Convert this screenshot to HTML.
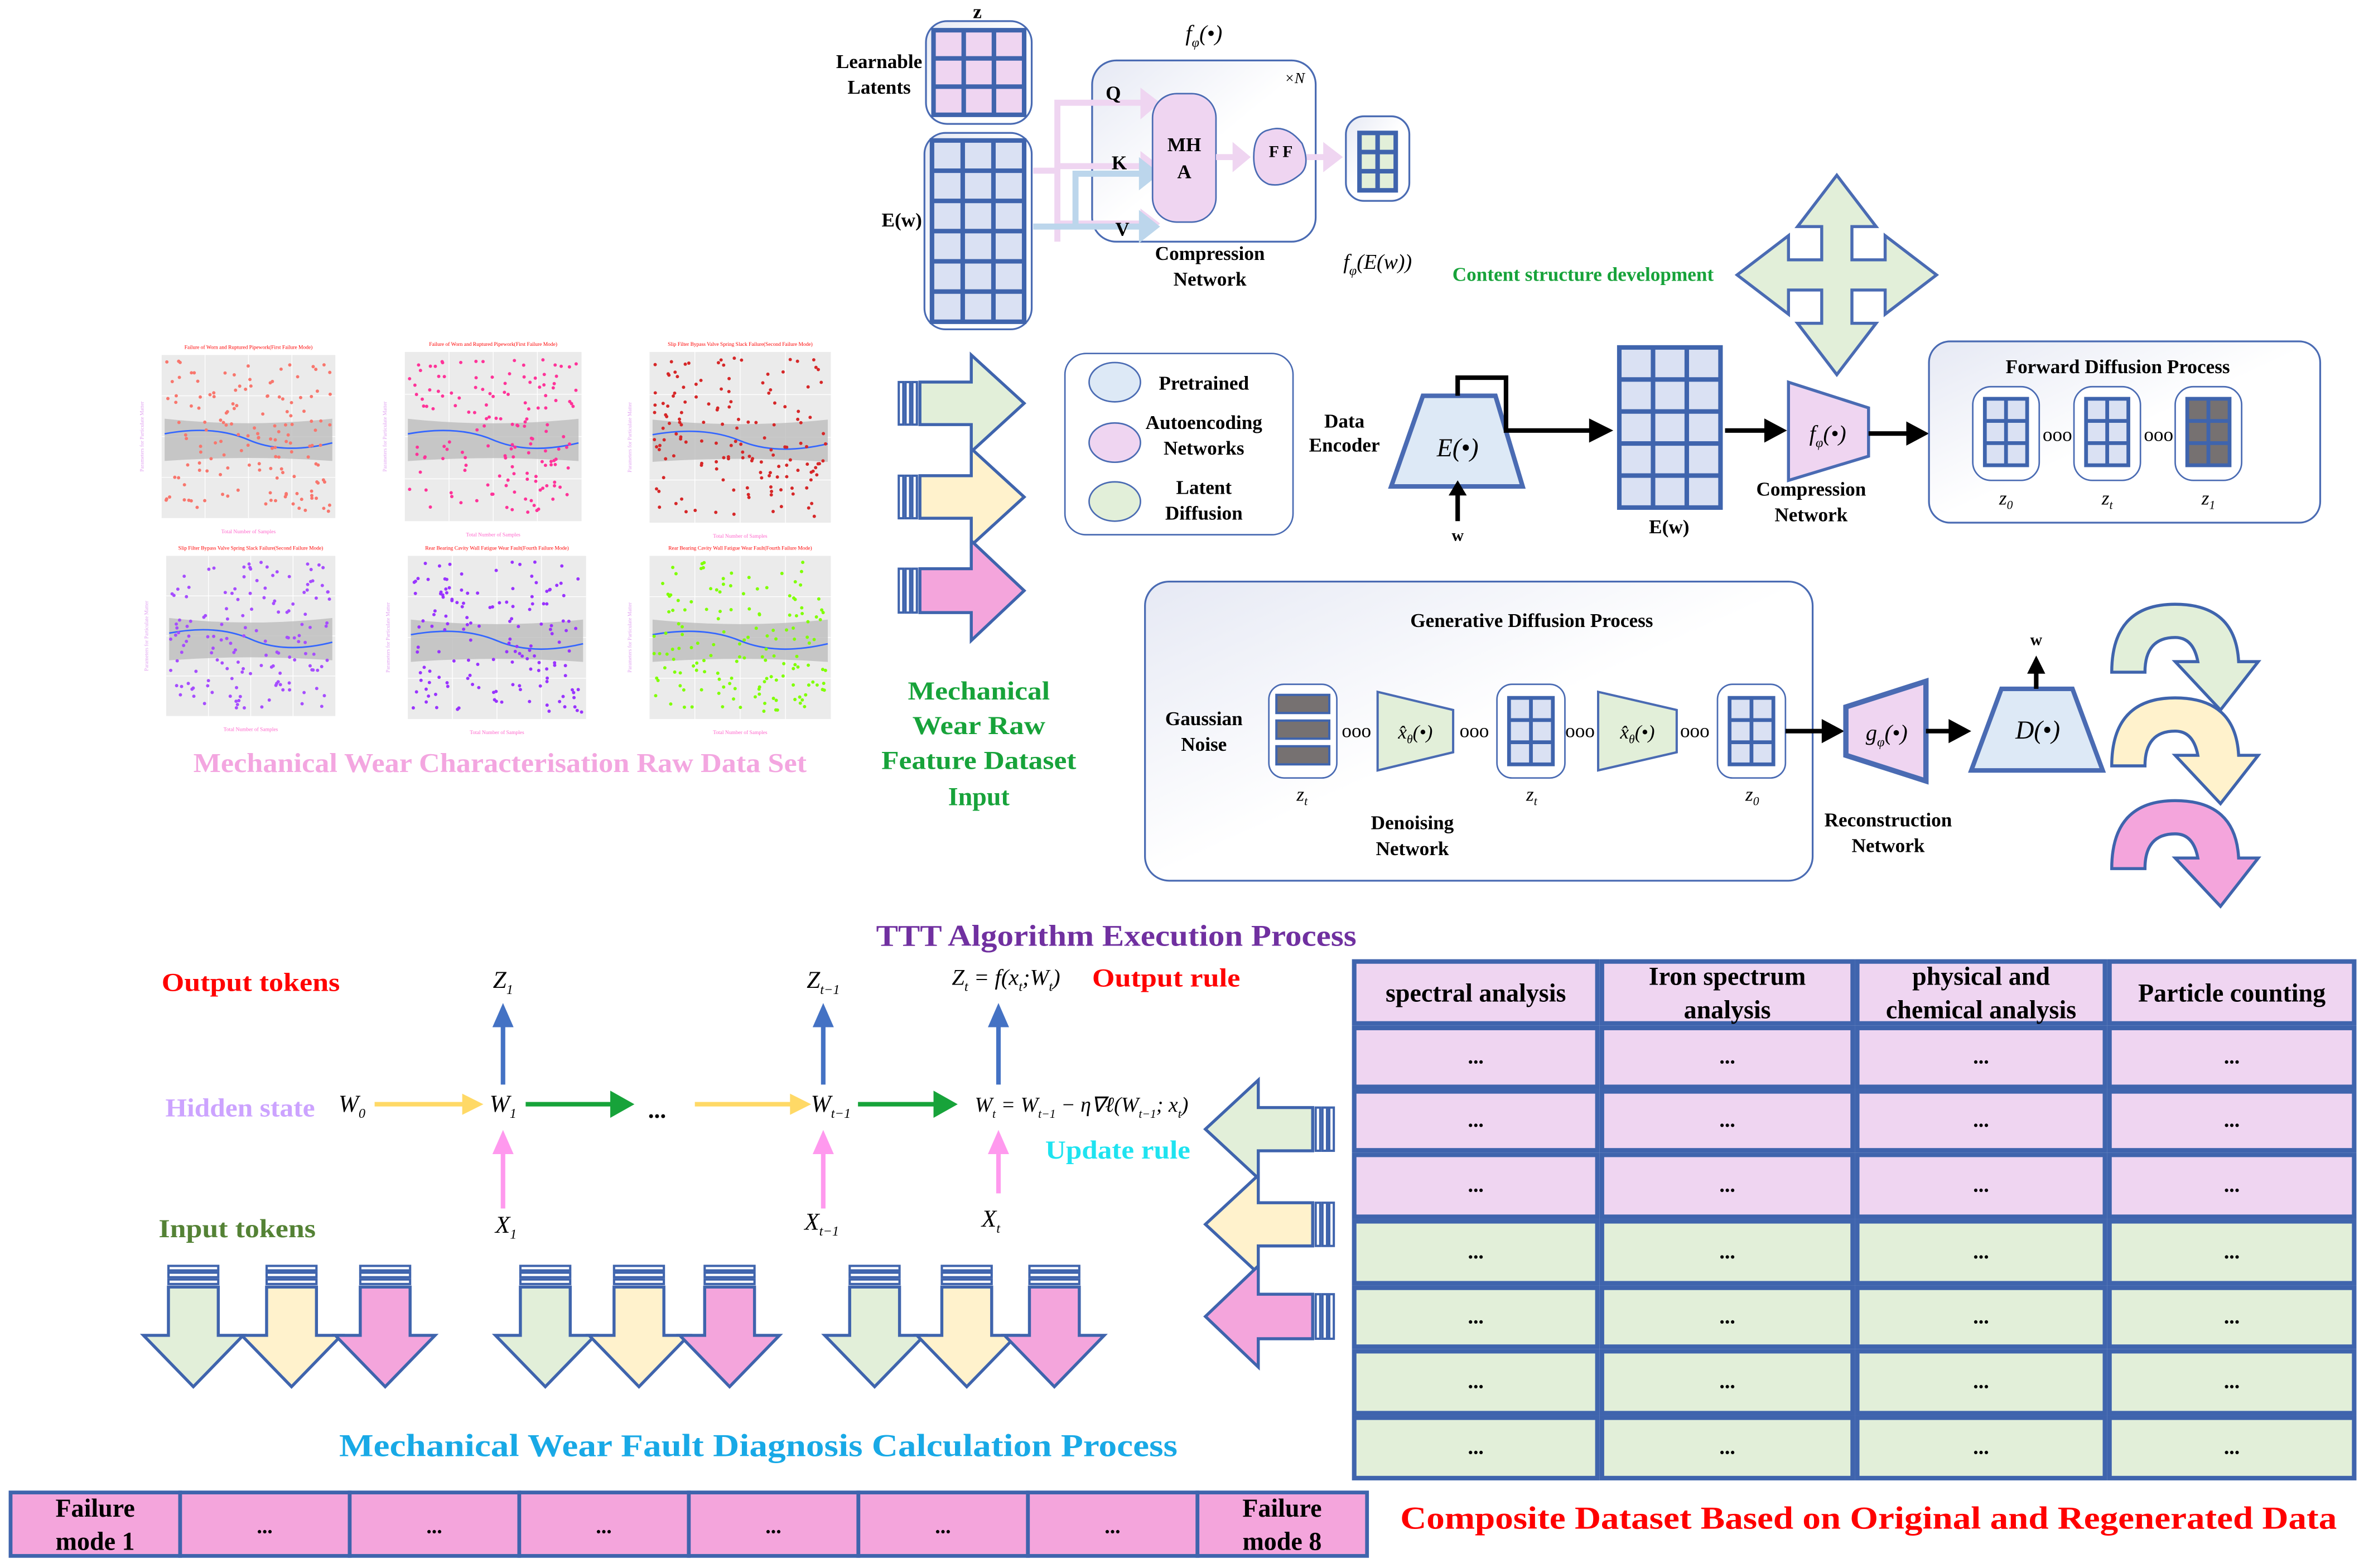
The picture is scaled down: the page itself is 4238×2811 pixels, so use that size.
<!DOCTYPE html>
<html><head><meta charset="utf-8"><style>
html,body{margin:0;padding:0;background:#fff}
svg{display:block}
text{font-family:"Liberation Serif",serif}
</style></head><body>
<svg id="s" xmlns="http://www.w3.org/2000/svg" width="4238" height="2811" viewBox="0 0 1565 1038" preserveAspectRatio="none">
<defs>
<linearGradient id="bg" x1="0" y1="0" x2="1" y2="1"><stop offset="0" stop-color="#e6e9f4"/><stop offset="0.5" stop-color="#ffffff"/></linearGradient>
</defs>
<g id="plots"></g>
<g id="main" font-weight="bold" font-size="13">
<text x="647" y="12" text-anchor="middle">z</text>
<text x="582" y="45" text-anchor="middle">Learnable</text>
<text x="582" y="62" text-anchor="middle">Latents</text>
<rect x="613" y="14" width="70" height="68" rx="14" fill="url(#bg)" stroke="#4a6bb3" stroke-width="1.2"/>
<rect x="612" y="88" width="71" height="130" rx="14" fill="url(#bg)" stroke="#4a6bb3" stroke-width="1.2"/>
<text x="597" y="150" text-anchor="middle">E(w)</text>
<text x="797" y="27" text-anchor="middle" font-style="italic" font-weight="normal" font-size="15">f<tspan font-size="9" dy="4">φ</tspan><tspan dy="-4">(•)</tspan></text>
<rect x="723" y="40" width="148" height="120" rx="16" fill="url(#bg)" stroke="#4a6bb3" stroke-width="1.2"/>
<text x="857" y="55" text-anchor="middle" font-style="italic" font-weight="normal" font-size="10">×N</text>
<g fill="none" stroke="#efd5f1" stroke-width="4">
<path d="M684,113 H700 V160 M700,113 V68 H760 M700,113 V110 H760 M700,160 V148 H760"/>
</g>
<g fill="#efd5f1"><path d="M755,58 L768,68 L755,79z"/><path d="M755,100 L768,110 L755,120z"/><path d="M755,138 L768,148 L755,158z"/></g>
<g fill="none" stroke="#bcd6ec" stroke-width="4"><path d="M684,150 H758 M712,150 V115 H758"/></g>
<g fill="#bcd6ec"><path d="M754,104 L768,115 L754,126z"/><path d="M754,139 L768,150 L754,161z"/></g>
<text x="737" y="66" text-anchor="middle">Q</text>
<text x="741" y="112" text-anchor="middle">K</text>
<text x="743" y="156" text-anchor="middle">V</text>
<rect x="763" y="62" width="42" height="85" rx="16" fill="#efd5f1" stroke="#4a6bb3" stroke-width="1"/>
<text x="784" y="100" text-anchor="middle">MH</text><text x="784" y="118" text-anchor="middle">A</text>
<path d="M805,104 H818" stroke="#efd5f1" stroke-width="4"/><path d="M816,94 L828,104 L816,114z" fill="#efd5f1"/>
<path d="M840,86 Q852,82 862,95 Q868,110 860,116 Q850,124 840,122 Q830,118 830,104 Q830,88 840,86z" fill="#efd5f1" stroke="#4a6bb3" stroke-width="1"/>
<text x="840" y="104" font-size="11">F F</text>
<path d="M865,104 H878" stroke="#efd5f1" stroke-width="4"/><path d="M876,94 L889,104 L876,114z" fill="#efd5f1"/>
<rect x="891" y="77" width="42" height="56" rx="12" fill="url(#bg)" stroke="#4a6bb3" stroke-width="1.2"/>
<text x="801" y="172" text-anchor="middle">Compression</text>
<text x="801" y="189" text-anchor="middle">Network</text>
<text x="912" y="178" text-anchor="middle" font-style="italic" font-weight="normal" font-size="14">f<tspan font-size="9" dy="4">φ</tspan><tspan dy="-4">(E(w))</tspan></text>
<text x="1048" y="186" text-anchor="middle" fill="#17a33a">Content structure development</text>
<path d="M1216,116 L1242,150 L1226,150 L1226,172 L1248,172 L1248,156 L1282,182 L1248,208 L1248,192 L1226,192 L1226,214 L1242,214 L1216,248 L1190,214 L1206,214 L1206,192 L1184,192 L1184,208 L1150,182 L1184,156 L1184,172 L1206,172 L1206,150 L1190,150 Z" fill="#e2efd9" stroke="#4a6bb3" stroke-width="2"/>
<rect x="705" y="234" width="151" height="120" rx="14" fill="#fff" stroke="#4a6bb3" stroke-width="1"/>
<ellipse cx="738" cy="253" rx="17" ry="13" fill="#dde9f6" stroke="#4a6bb3"/>
<ellipse cx="738" cy="293" rx="17" ry="13" fill="#efd5f1" stroke="#4a6bb3"/>
<ellipse cx="738" cy="332" rx="17" ry="13" fill="#e2efd9" stroke="#4a6bb3"/>
<text x="797" y="258" text-anchor="middle">Pretrained</text>
<text x="797" y="284" text-anchor="middle">Autoencoding</text>
<text x="797" y="301" text-anchor="middle">Networks</text>
<text x="797" y="327" text-anchor="middle">Latent</text>
<text x="797" y="344" text-anchor="middle">Diffusion</text>
<text x="890" y="283" text-anchor="middle">Data</text>
<text x="890" y="299" text-anchor="middle">Encoder</text>
<path d="M942,262 H990 L1008,322 H921 Z" fill="#dde9f6" stroke="#4a6bb3" stroke-width="3"/>
<text x="965" y="302" text-anchor="middle" font-style="italic" font-weight="normal" font-size="17">E(•)</text>
<path d="M965,345 V324" stroke="#000" stroke-width="3"/><path d="M959,328 L965,318 L971,328z"/>
<text x="965" y="358" text-anchor="middle" font-size="11">w</text>
<path d="M965,262 V250 H997 V285 H1055" fill="none" stroke="#000" stroke-width="3"/><path d="M1052,277 L1068,285 L1052,293z"/>
<text x="1105" y="353" text-anchor="middle">E(w)</text>
<path d="M1142,285 H1170" stroke="#000" stroke-width="3"/><path d="M1168,277 L1183,285 L1168,293z"/>
<path d="M1184,253 L1237,270 V302 L1184,318 Z" fill="#efd5f1" stroke="#4a6bb3" stroke-width="2"/>
<text x="1210" y="292" text-anchor="middle" font-style="italic" font-weight="normal" font-size="15">f<tspan font-size="9" dy="4">φ</tspan><tspan dy="-4">(•)</tspan></text>
<text x="1199" y="328" text-anchor="middle">Compression</text>
<text x="1199" y="345" text-anchor="middle">Network</text>
<path d="M1237,287 H1264" stroke="#000" stroke-width="3"/><path d="M1262,279 L1277,287 L1262,295z"/>
<rect x="1277" y="226" width="259" height="120" rx="14" fill="url(#bg)" stroke="#4a6bb3" stroke-width="1.2"/>
<text x="1402" y="247" text-anchor="middle">Forward Diffusion Process</text>
<rect x="1306" y="256" width="44" height="62" rx="12" fill="#fff" stroke="#4a6bb3"/>
<rect x="1373" y="256" width="44" height="62" rx="12" fill="#fff" stroke="#4a6bb3"/>
<rect x="1440" y="256" width="44" height="62" rx="12" fill="#fff" stroke="#4a6bb3"/>
<text x="1362" y="292" text-anchor="middle" font-weight="normal">ooo</text>
<text x="1429" y="292" text-anchor="middle" font-weight="normal">ooo</text>
<g font-style="italic" font-weight="normal" font-size="13" text-anchor="middle">
<text x="1328" y="334">z<tspan font-size="8" dy="3">0</tspan></text>
<text x="1395" y="334">z<tspan font-size="8" dy="3">t</tspan></text>
<text x="1462" y="334">z<tspan font-size="8" dy="3">1</tspan></text>
</g>
<rect x="758" y="385" width="442" height="198" rx="16" fill="url(#bg)" stroke="#4a6bb3" stroke-width="1.2"/>
<text x="1014" y="415" text-anchor="middle">Generative Diffusion Process</text>
<text x="797" y="480" text-anchor="middle">Gaussian</text>
<text x="797" y="497" text-anchor="middle">Noise</text>
<rect x="840" y="453" width="45" height="62" rx="10" fill="#fff" stroke="#4a6bb3"/>
<g fill="#767171" stroke="#3f64ad" stroke-width="1.5"><rect x="845" y="460" width="35" height="12"/><rect x="845" y="477" width="35" height="12"/><rect x="845" y="494" width="35" height="12"/></g>
<rect x="991" y="453" width="45" height="62" rx="10" fill="#fff" stroke="#4a6bb3"/>
<rect x="1137" y="453" width="45" height="62" rx="10" fill="#fff" stroke="#4a6bb3"/>
<g font-weight="normal" text-anchor="middle"><text x="898" y="488">ooo</text><text x="976" y="488">ooo</text><text x="1046" y="488">ooo</text><text x="1122" y="488">ooo</text></g>
<path d="M912,458 L962,470 V498 L912,510 Z" fill="#e2efd9" stroke="#4a6bb3" stroke-width="1.5"/>
<path d="M1058,458 L1110,470 V498 L1058,510 Z" fill="#e2efd9" stroke="#4a6bb3" stroke-width="1.5"/>
<g font-style="italic" font-weight="normal" font-size="13" text-anchor="middle">
<text x="937" y="489">x̂<tspan font-size="8" dy="3">θ</tspan><tspan dy="-3">(•)</tspan></text>
<text x="1084" y="489">x̂<tspan font-size="8" dy="3">θ</tspan><tspan dy="-3">(•)</tspan></text>
<text x="862" y="530">z<tspan font-size="8" dy="3">t</tspan></text>
<text x="1014" y="530">z<tspan font-size="8" dy="3">t</tspan></text>
<text x="1160" y="530">z<tspan font-size="8" dy="3">0</tspan></text>
</g>
<text x="935" y="549" text-anchor="middle">Denoising</text>
<text x="935" y="566" text-anchor="middle">Network</text>
<path d="M1182,484 H1208" stroke="#000" stroke-width="3"/><path d="M1206,476 L1221,484 L1206,492z"/>
<path d="M1222,468 L1275,451 V517 L1222,500 Z" fill="#efd5f1" stroke="#4a6bb3" stroke-width="3.5"/>
<text x="1249" y="490" text-anchor="middle" font-style="italic" font-weight="normal" font-size="15">g<tspan font-size="9" dy="4">φ</tspan><tspan dy="-4">(•)</tspan></text>
<path d="M1275,484 H1292" stroke="#000" stroke-width="3"/><path d="M1290,476 L1305,484 L1290,492z"/>
<path d="M1325,456 H1372 L1392,510 H1305 Z" fill="#dde9f6" stroke="#4a6bb3" stroke-width="3"/>
<text x="1349" y="489" text-anchor="middle" font-style="italic" font-weight="normal" font-size="17">D(•)</text>
<path d="M1348,456 V444" stroke="#000" stroke-width="3"/><path d="M1342,446 L1348,434 L1354,446z"/>
<text x="1348" y="427" text-anchor="middle" font-size="11">w</text>
<text x="1250" y="547" text-anchor="middle">Reconstruction</text>
<text x="1250" y="564" text-anchor="middle">Network</text>
<g font-size="17" text-anchor="middle" fill="#17a33a" lengthAdjust="spacingAndGlyphs">
<text x="648" y="463" textLength="94" lengthAdjust="spacingAndGlyphs">Mechanical</text><text x="648" y="486" textLength="88" lengthAdjust="spacingAndGlyphs">Wear Raw</text><text x="648" y="509" textLength="129" lengthAdjust="spacingAndGlyphs">Feature Dataset</text><text x="648" y="533">Input</text></g>
<text x="331" y="511" text-anchor="middle" font-size="18" fill="#f3a6e0" textLength="406" lengthAdjust="spacingAndGlyphs">Mechanical Wear Characterisation Raw Data Set</text>
<text x="739" y="626" text-anchor="middle" font-size="20" fill="#7030a0" textLength="318" lengthAdjust="spacingAndGlyphs">TTT Algorithm Execution Process</text>
<text x="166" y="656" text-anchor="middle" font-size="17" fill="#ff0000" textLength="118" lengthAdjust="spacingAndGlyphs">Output tokens</text>
<text x="159" y="739" text-anchor="middle" font-size="17" fill="#cca3ff" textLength="99" lengthAdjust="spacingAndGlyphs">Hidden state</text>
<text x="157" y="819" text-anchor="middle" font-size="17" fill="#548235" textLength="104" lengthAdjust="spacingAndGlyphs">Input tokens</text>
<text x="772" y="653" text-anchor="middle" font-size="17" fill="#ff0000" textLength="98" lengthAdjust="spacingAndGlyphs">Output rule</text>
<text x="740" y="767" text-anchor="middle" font-size="17" fill="#1ee3f0" textLength="96" lengthAdjust="spacingAndGlyphs">Update rule</text>
<text x="502" y="964" text-anchor="middle" font-size="21" fill="#18a9e6" textLength="555" lengthAdjust="spacingAndGlyphs">Mechanical Wear Fault Diagnosis Calculation Process</text>
<text x="1237" y="1012" text-anchor="middle" font-size="21" fill="#ff0000" textLength="620" lengthAdjust="spacingAndGlyphs">Composite Dataset Based on Original and Regenerated Data</text>
<g font-style="italic" font-weight="normal" font-size="16" text-anchor="middle">
<text x="233" y="736">W<tspan font-size="9" dy="4">0</tspan></text>
<text x="333" y="736">W<tspan font-size="9" dy="4">1</tspan></text>
<text x="550" y="736">W<tspan font-size="9" dy="4">t−1</tspan></text>
<text x="333" y="654">Z<tspan font-size="9" dy="4">1</tspan></text>
<text x="545" y="654">Z<tspan font-size="9" dy="4">t−1</tspan></text>
<text x="335" y="816">X<tspan font-size="9" dy="4">1</tspan></text>
<text x="544" y="814">X<tspan font-size="9" dy="4">t−1</tspan></text>
<text x="656" y="812">X<tspan font-size="9" dy="4">t</tspan></text>
<text x="666" y="652" font-size="15">Z<tspan font-size="9" dy="4">t</tspan><tspan dy="-4"> = f(x</tspan><tspan font-size="9" dy="4">t</tspan><tspan dy="-4">;W</tspan><tspan font-size="9" dy="4">t</tspan><tspan dy="-4">)</tspan></text>
<text x="716" y="736" font-size="14">W<tspan font-size="8" dy="4">t</tspan><tspan dy="-4"> = W</tspan><tspan font-size="8" dy="4">t−1</tspan><tspan dy="-4"> − η∇ℓ(W</tspan><tspan font-size="8" dy="4">t−1</tspan><tspan dy="-4">; x</tspan><tspan font-size="8" dy="4">t</tspan><tspan dy="-4">)</tspan></text>
</g>
<text x="435" y="740" text-anchor="middle" font-size="16">...</text>
<g stroke-width="3" fill="none">
<path d="M248,731 H308" stroke="#ffd966"/><path d="M460,731 H525" stroke="#ffd966"/>
<path d="M348,731 H408" stroke="#17a33a"/><path d="M568,731 H622" stroke="#17a33a"/>
<path d="M333,718 V675" stroke="#4472c4"/><path d="M545,718 V675" stroke="#4472c4"/><path d="M661,718 V675" stroke="#4472c4"/>
<path d="M333,800 V760" stroke="#ff99ee"/><path d="M545,800 V760" stroke="#ff99ee"/><path d="M661,790 V760" stroke="#ff99ee"/>
</g>
<path d="M306,724 L320,731 L306,738z" fill="#ffd966"/><path d="M523,724 L537,731 L523,738z" fill="#ffd966"/>
<path d="M404,722 L420,731 L404,740z" fill="#17a33a"/><path d="M618,722 L634,731 L618,740z" fill="#17a33a"/>
<path d="M326,680 L333,664 L340,680z" fill="#4472c4"/><path d="M538,680 L545,664 L552,680z" fill="#4472c4"/><path d="M654,680 L661,664 L668,680z" fill="#4472c4"/>
<path d="M326,764 L333,748 L340,764z" fill="#ff99ee"/><path d="M538,764 L545,748 L552,764z" fill="#ff99ee"/><path d="M654,764 L661,748 L668,764z" fill="#ff99ee"/>
</g>
<g id="gen"></g>
</svg>
<script>
var NS="http://www.w3.org/2000/svg";
var gen=document.getElementById("gen"), plots=document.getElementById("plots");
function el(p,t,a,txt){var e=document.createElementNS(NS,t);for(var k in a)e.setAttribute(k,a[k]);if(txt!==undefined)e.textContent=txt;p.appendChild(e);return e;}
var B="#3f64ad";
function grid(x,y,w,h,c,r,fill,sw){el(gen,"rect",{x:x,y:y,width:w,height:h,fill:fill,stroke:B,"stroke-width":sw||3});
for(var i=1;i<c;i++)el(gen,"line",{x1:x+w*i/c,y1:y,x2:x+w*i/c,y2:y+h,stroke:B,"stroke-width":sw||3});
for(var j=1;j<r;j++)el(gen,"line",{x1:x,y1:y+h*j/r,x2:x+w,y2:y+h*j/r,stroke:B,"stroke-width":sw||3});}
grid(618,20,60,56,3,3,"#efd5f1");
grid(617,93,61,120,3,6,"#dae1f3");
grid(900,88,24,38,2,3,"#e2efd9");
grid(1072,230,67,106,3,5,"#dae1f3");
[1306,1373,1440].forEach(function(x,i){grid(x+8,264,28,44,2,3,i==2?"#767171":"#dae1f3",2.5);});
grid(999,462,29,44,2,3,"#dae1f3",2.5);grid(1145,462,29,44,2,3,"#dae1f3",2.5);
var cols=["#e2efd9","#fff2cc","#f4a5dc"];
function rarrow(x,y,h,f){var m=y+h/2;
el(gen,"path",{d:"M"+(x+14)+","+(m-h*0.22)+" H"+(x+48)+" V"+y+" L"+(x+83)+","+m+" L"+(x+48)+","+(y+h)+" V"+(m+h*0.22)+" H"+(x+14)+" Z",fill:f,stroke:B,"stroke-width":2});
for(var i=0;i<3;i++)el(gen,"rect",{x:x+i*4.5,y:m-h*0.22,width:3,height:h*0.44,fill:"#fff",stroke:B,"stroke-width":1.5});}
rarrow(595,235,64,cols[0]);rarrow(595,297,64,cols[1]);rarrow(595,358,66,cols[2]);
function larrow(x,y,h,f){var m=y+h/2,r=x+85;
el(gen,"path",{d:"M"+(r-14)+","+(m-h*0.22)+" H"+(x+35)+" V"+y+" L"+x+","+m+" L"+(x+35)+","+(y+h)+" V"+(m+h*0.22)+" H"+(r-14)+" Z",fill:f,stroke:B,"stroke-width":2});
for(var i=0;i<3;i++)el(gen,"rect",{x:r-12+i*4.5,y:m-h*0.22,width:3,height:h*0.44,fill:"#fff",stroke:B,"stroke-width":1.5});}
larrow(798,715,65,cols[0]);larrow(798,778,65,cols[1]);larrow(798,838,67,cols[2]);
function darrow(x,w,f){var y=838,c=x+w/2;
el(gen,"path",{d:"M"+(c-w*0.25)+",852 V884 H"+x+" L"+c+",918 L"+(x+w)+",884 H"+(c+w*0.25)+" V852 Z",fill:f,stroke:B,"stroke-width":2});
for(var i=0;i<3;i++)el(gen,"rect",{x:c-w*0.25,y:y+i*4.5,width:w*0.5,height:3,fill:"#fff",stroke:B,"stroke-width":1.5});}
[[95,160,222],[328,390,450],[546,607,665]].forEach(function(g){g.forEach(function(x,i){darrow(x,66,cols[i]);});});
function curve(y,f){el(gen,"path",{d:"M1398,"+(y+45)+" Q1398,"+y+" 1440,"+y+" Q1480,"+y+" 1482,"+(y+38)+" L1495,"+(y+38)+" L1470,"+(y+70)+" L1440,"+(y+38)+" L1455,"+(y+38)+" Q1452,"+(y+22)+" 1440,"+(y+22)+" Q1420,"+(y+22)+" 1420,"+(y+45)+" Z",fill:f,stroke:B,"stroke-width":2});}
curve(400,cols[0]);curve(462,cols[1]);curve(530,cols[2]);
var cx=[895,1059,1228,1395,1560];
var rows=[[635,679,"#efd5f1"],[679,721,"#efd5f1"],[721,763,"#efd5f1"],[763,807,"#efd5f1"],[807,851,"#e2efd9"],[851,893,"#e2efd9"],[893,937,"#e2efd9"],[937,980,"#e2efd9"]];
var hd=[["spectral analysis"],["Iron spectrum","analysis"],["physical and","chemical analysis"],["Particle counting"]];
rows.forEach(function(r,ri){for(var i=0;i<4;i++){el(gen,"rect",{x:cx[i]+1.5,y:r[0]+1.5,width:cx[i+1]-cx[i]-3,height:r[1]-r[0]-3,fill:r[2],stroke:B,"stroke-width":3});
var mx=(cx[i]+cx[i+1])/2;
if(ri==0){var h=hd[i];if(h.length==1)el(gen,"text",{x:mx,y:663,"text-anchor":"middle","font-size":17,"font-weight":"bold"},h[0]);else{el(gen,"text",{x:mx,y:652,"text-anchor":"middle","font-size":17,"font-weight":"bold"},h[0]);el(gen,"text",{x:mx,y:674,"text-anchor":"middle","font-size":17,"font-weight":"bold"},h[1]);}}
else el(gen,"text",{x:mx,y:(r[0]+r[1])/2+4,"text-anchor":"middle","font-size":14,"font-weight":"bold"},"...");}});
for(var i=0;i<8;i++){var x=7+i*112.25;el(gen,"rect",{x:x,y:988,width:112.25,height:42,fill:"#f4a5dc",stroke:B,"stroke-width":2.5});
if(i==0||i==7){el(gen,"text",{x:x+56,y:1004,"text-anchor":"middle","font-size":17,"font-weight":"bold"},"Failure");el(gen,"text",{x:x+56,y:1026,"text-anchor":"middle","font-size":17,"font-weight":"bold"},i==0?"mode 1":"mode 8");}
else el(gen,"text",{x:x+56,y:1015,"text-anchor":"middle","font-size":14,"font-weight":"bold"},"...");}
var seed=7;function rnd(){seed=(seed*16807)%2147483647;return seed/2147483647;}
var P=[[107,235,115,108,"#f8766d","Failure of Worn and Ruptured Pipework(First Failure Mode)"],[268,233,117,112,"#ff3399","Failure of Worn and Ruptured Pipework(First Failure Mode)"],[430,233,120,113,"#d62728","Slip Filter Bypass Valve Spring Slack Failure(Second Failure Mode)"],
[110,368,112,106,"#a64dff","Slip Filter Bypass Valve Spring Slack Failure(Second Failure Mode)"],[270,368,118,108,"#9933ff","Rear Bearing Cavity Wall Fatigue Wear Fault(Fourth Failure Mode)"],[430,368,120,108,"#7fff00","Rear Bearing Cavity Wall Fatigue Wear Fault(Fourth Failure Mode)"]];
P.forEach(function(p){var x=p[0],y=p[1],w=p[2],h=p[3];
el(plots,"rect",{x:x,y:y,width:w,height:h,fill:"#ebebeb"});
for(var k=1;k<4;k++){el(plots,"line",{x1:x+w*k/4,y1:y,x2:x+w*k/4,y2:y+h,stroke:"#fff","stroke-width":0.5});el(plots,"line",{x1:x,y1:y+h*k/4,x2:x+w,y2:y+h*k/4,stroke:"#fff","stroke-width":0.5});}
el(plots,"text",{x:x+w/2,y:y-4,"text-anchor":"middle","font-size":3.5,fill:"#ff0000","font-family":"Liberation Sans"},p[5]);
el(plots,"text",{x:x+w/2,y:y+h+10,"text-anchor":"middle","font-size":3.5,fill:"#ff66cc","font-family":"Liberation Sans"},"Total Number of Samples");
el(plots,"text",{transform:"translate("+(x-12)+","+(y+h/2)+") rotate(-90)","text-anchor":"middle","font-size":3.5,fill:"#e0a0f0","font-family":"Liberation Sans"},"Parameters for Particulate Matter");
var my=y+h*0.52;
el(plots,"path",{d:"M"+(x+2)+","+(my-14)+" Q"+(x+w/2)+","+(my-8)+" "+(x+w-2)+","+(my-14)+" V"+(my+14)+" Q"+(x+w/2)+","+(my+10)+" "+(x+2)+","+(my+14)+" Z",fill:"#bdbdbd",opacity:0.8});
el(plots,"path",{d:"M"+(x+2)+","+(my-4)+" Q"+(x+w*0.3)+","+(my-10)+" "+(x+w/2)+","+my+" T"+(x+w-2)+","+(my+2),fill:"none",stroke:"#3366ff","stroke-width":1});
for(var i=0;i<150;i++)el(plots,"circle",{cx:x+3+rnd()*(w-6),cy:y+4+rnd()*(h-8),r:1.1,fill:p[4]});});
</script>
</body></html>
